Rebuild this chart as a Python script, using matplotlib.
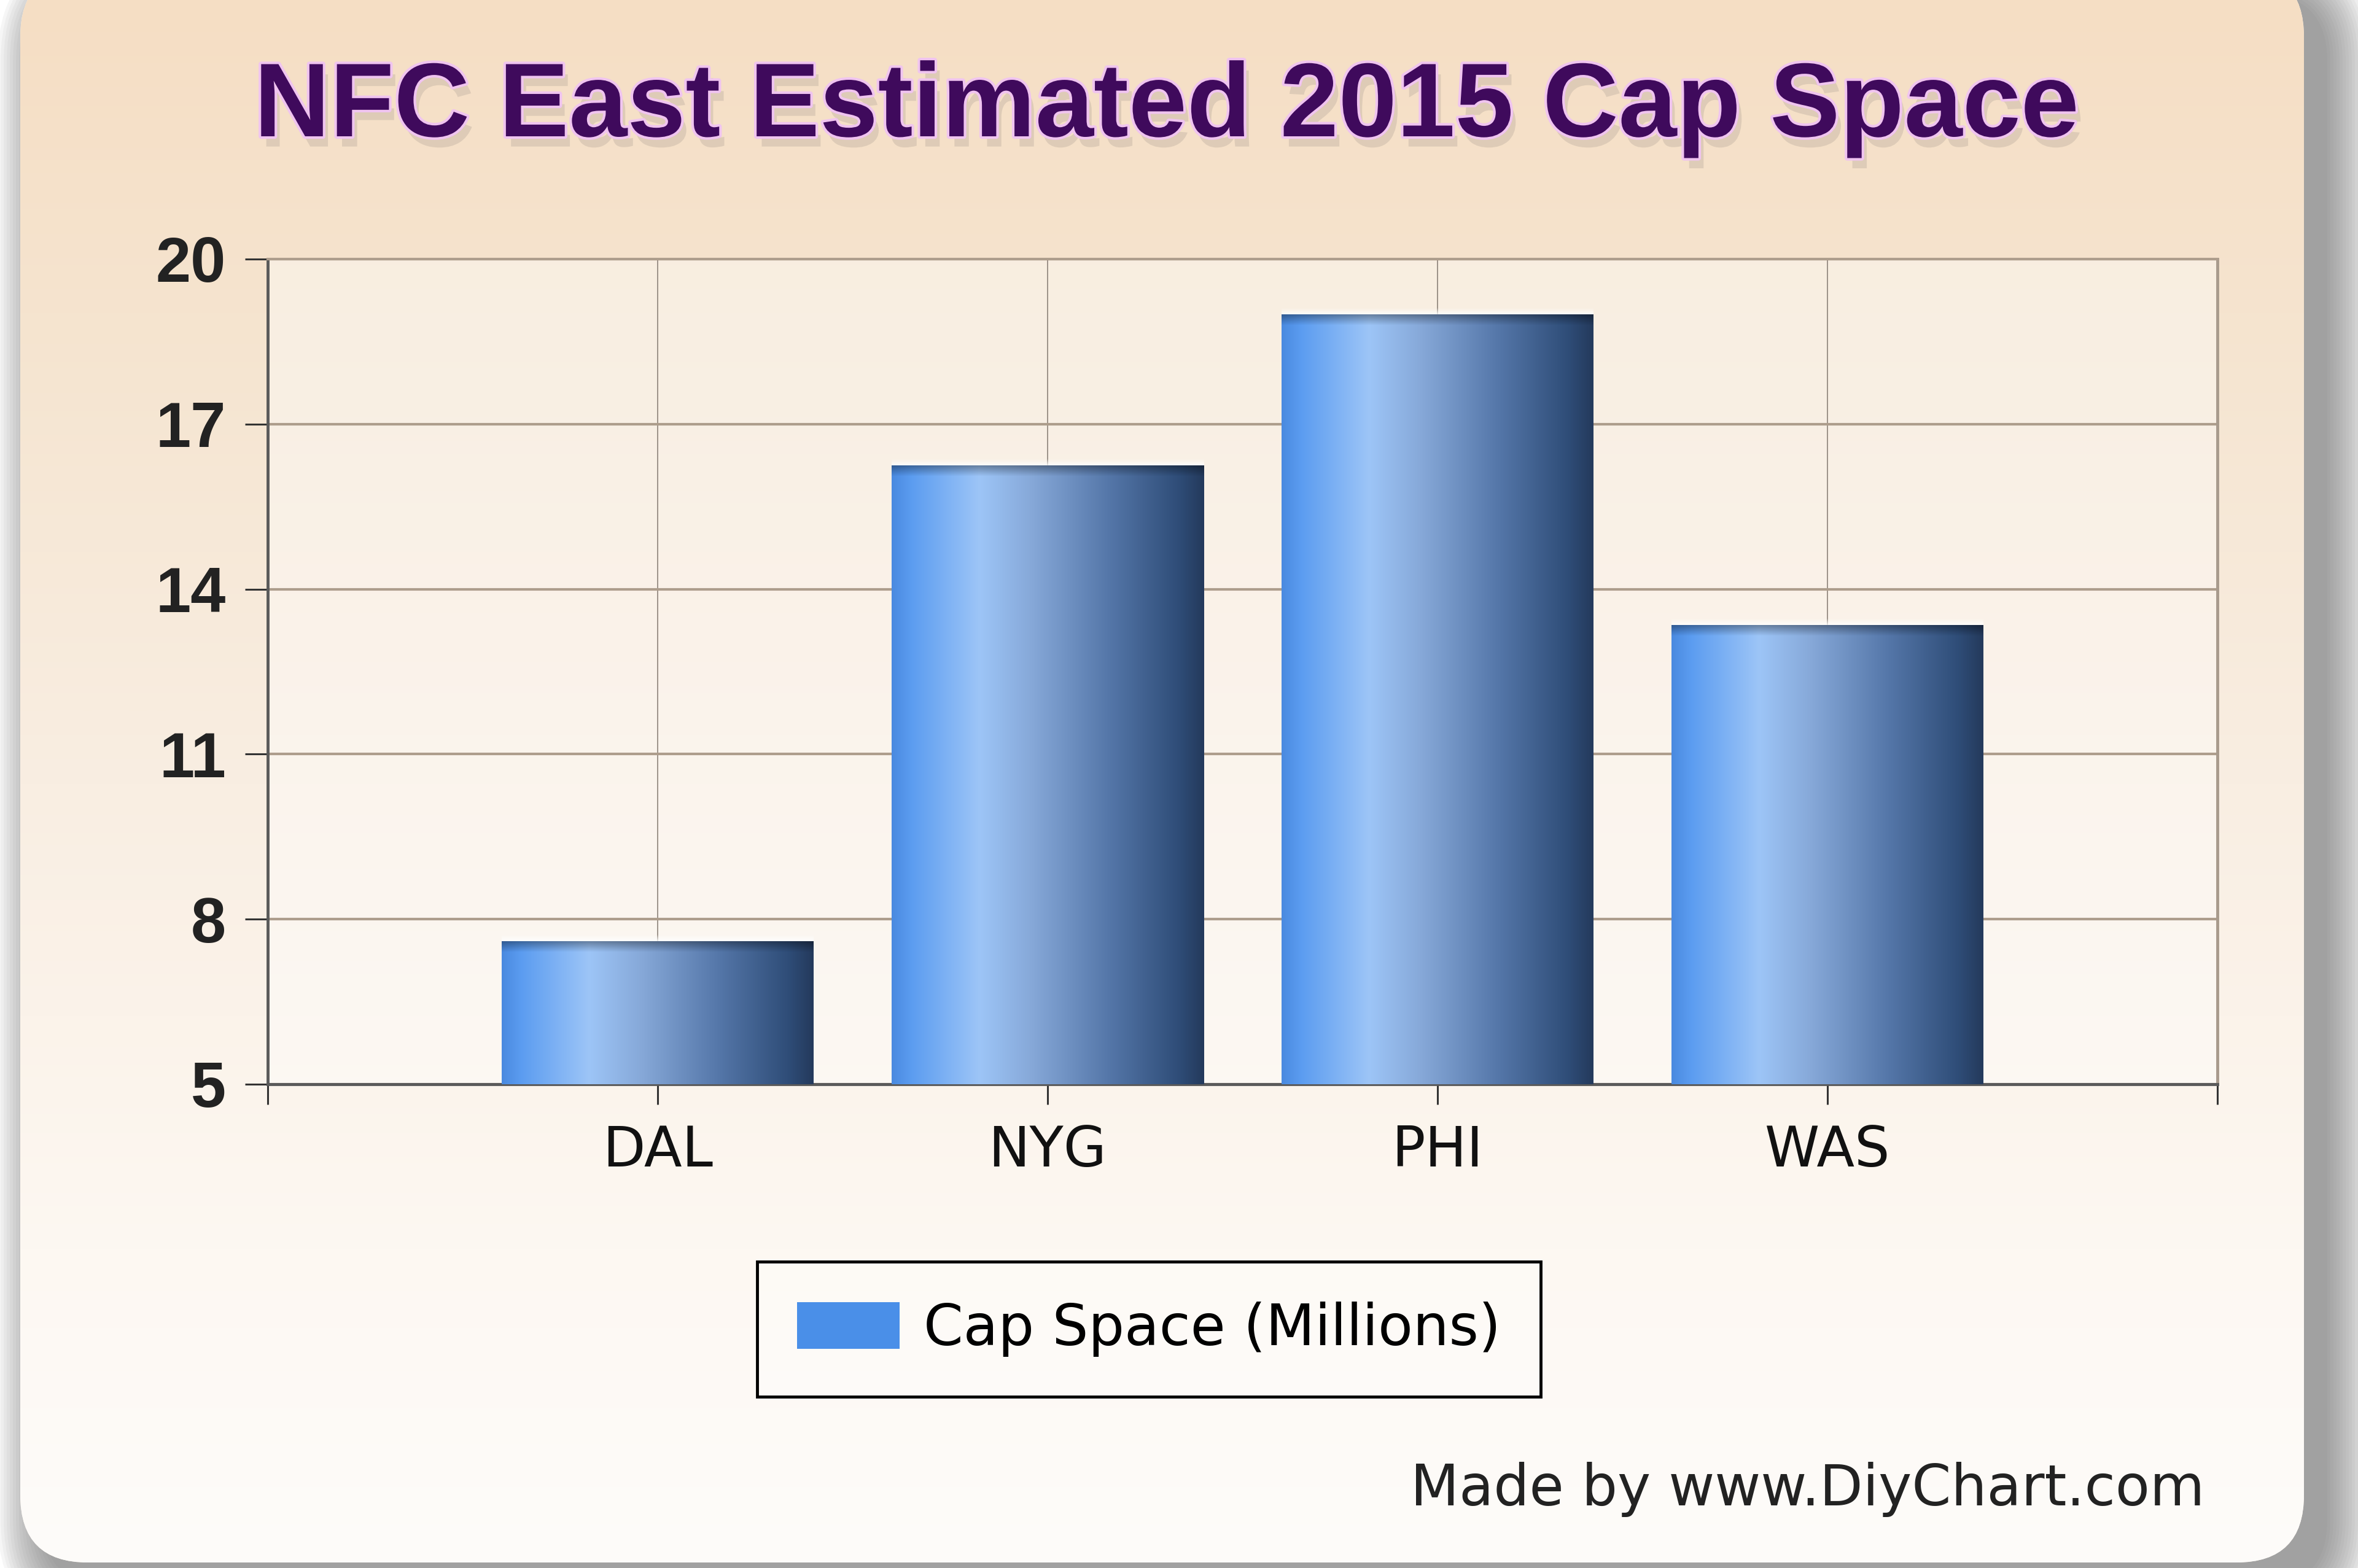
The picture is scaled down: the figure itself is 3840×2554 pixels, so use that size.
import matplotlib
matplotlib.use("Agg")
import matplotlib.pyplot as plt
import matplotlib.patches as mpatches
import matplotlib.patheffects as pe
from matplotlib.colors import LinearSegmentedColormap
import numpy as np

# data
teams = ['DAL', 'NYG', 'PHI', 'WAS']
cap_space = [7.6, 16.25, 19.0, 13.35]
y_ticks = [5, 8, 11, 14, 17, 20]
series_name = 'Cap Space (Millions)'
title = 'NFC East Estimated 2015 Cap Space'
credit = 'Made by www.DiyChart.com'

W, H = 3840, 2554
fig = plt.figure(figsize=(W / 100, H / 100), dpi=100)
fig.patch.set_facecolor('white')

# background card with gradient + soft shadow
bg = fig.add_axes([0, 0, 1, 1], zorder=-10)
bg.set_xlim(0, W)
bg.set_ylim(H, 0)
bg.axis('off')

cx0, cy0, cx1, cy1 = 33, -50, 3752, 2545
for k in range(16):
    grow = k * 5
    sh = mpatches.FancyBboxPatch((cx0 + 38 - grow, cy0 + 40 - grow),
                                 cx1 - cx0 + 2 * grow, cy1 - cy0 + 2 * grow,
                                 boxstyle="round,pad=0,rounding_size=%d" % (110 + grow),
                                 fc='#6a6a6a', ec='none', alpha=0.055)
    bg.add_patch(sh)

card = mpatches.FancyBboxPatch((cx0, cy0), cx1 - cx0, cy1 - cy0,
                               boxstyle="round,pad=0,rounding_size=110",
                               fc='#fbf3ea', ec='none')
bg.add_patch(card)
stops = [(0.0, (245, 222, 196)), (0.2, (245, 228, 207)), (0.5, (249, 238, 226)),
         (0.8, (253, 248, 242)), (1.0, (254, 252, 250))]
bg_cmap = LinearSegmentedColormap.from_list(
    'bgc', [(p, tuple(c / 255 for c in rgb)) for p, rgb in stops])
grad_v = np.linspace(0, 1, 512).reshape(-1, 1)
im = bg.imshow(grad_v, cmap=bg_cmap, extent=(0, W, H, 0), aspect='auto',
               interpolation='bicubic', zorder=1)
im.set_clip_path(card)
bg.set_xlim(0, W)
bg.set_ylim(H, 0)

# plot area
ax = fig.add_axes([436 / W, 1 - 1766 / H, (3611 - 436) / W, (1766 - 422) / H])
ax.patch.set_facecolor((1, 1, 1, 0.4))

x = np.arange(1, len(teams) + 1)
bars = ax.bar(x, cap_space, width=0.8, color='#4a8fe8', zorder=2, label=series_name)

bar_cmap = LinearSegmentedColormap.from_list('bar', [
    (0.0, '#4a8ae0'), (0.06, '#5b9cf0'), (0.28, '#9dc5f7'), (0.45, '#86a8d8'),
    (0.7, '#5476a8'), (0.92, '#2f4d78'), (1.0, '#243a5c')])
grad_h = np.linspace(0, 1, 256).reshape(1, -1)
top_shade = np.zeros((32, 1, 4))
top_shade[:, 0, 3] = np.linspace(0.35, 0.0, 32)
glow = np.ones((16, 1, 4))
glow[:, 0, 3] = np.linspace(0.0, 0.8, 16)
for patch in bars:
    x0 = patch.get_x()
    w = patch.get_width()
    top = patch.get_y() + patch.get_height()
    g = ax.imshow(grad_h, cmap=bar_cmap, extent=(x0, x0 + w, 5, top), aspect='auto',
                  interpolation='bicubic', zorder=3)
    g.set_clip_path(patch)
    ax.imshow(top_shade, extent=(x0, x0 + w, top - 0.2, top), aspect='auto', zorder=4)
    ax.imshow(glow, extent=(x0, x0 + w, top, top + 0.12), aspect='auto', zorder=4)

ax.set_xlim(0, 5)
ax.set_ylim(5, 20)
ax.set_axisbelow(True)
ax.yaxis.grid(True, color='#ad9d8c', lw=3)
ax.xaxis.grid(True, color='#8c8279', lw=1.2)

ax.set_yticks(y_ticks)
ax.set_yticklabels([str(v) for v in y_ticks], fontfamily='Liberation Sans',
                   fontweight='bold', fontsize=74, color='#222222')
ax.set_xticks(range(0, len(teams) + 2))
ax.set_xticklabels([''] + teams + [''], fontfamily='DejaVu Sans', fontsize=65,
                   color='#111111')
ax.tick_params(axis='y', direction='out', length=27, width=2.2, color='#333333', pad=22)
ax.tick_params(axis='x', direction='out', length=24, width=2.2, color='#333333', pad=23)

for side in ['left', 'bottom']:
    ax.spines[side].set_color('#5a5a5a')
    ax.spines[side].set_linewidth(3.5)
ax.spines['top'].set_color('#ad9d8c')
ax.spines['top'].set_linewidth(3)
ax.spines['right'].set_color('#a89a8c')
ax.spines['right'].set_linewidth(3.5)

# title
fig.text(1900 / W, 1 - 222 / H, title, ha='center', va='baseline',
         fontfamily='Liberation Sans', fontweight='bold', fontsize=123, color='#3f0a5c',
         path_effects=[pe.SimplePatchShadow(offset=(6, -12), shadow_rgbFace='#9a9088', alpha=0.25),
                       pe.Stroke(linewidth=6, foreground='#f0c4f0'),
                       pe.Normal()])

# legend
leg = fig.legend(handles=[mpatches.Patch(facecolor='#4a8fe8', edgecolor='none')],
                 labels=[series_name], loc='center',
                 bbox_to_anchor=(1871 / W, 1 - 2165 / H),
                 prop={'family': 'DejaVu Sans', 'size': 66.7},
                 fancybox=False, framealpha=1, handlelength=1.8, handleheight=0.9,
                 handletextpad=0.42, borderpad=0.7)
frame = leg.get_frame()
frame.set_alpha(None)
frame.set_facecolor((1, 1, 1, 0.3))
frame.set_edgecolor('black')
frame.set_linewidth(3.5)

fig.text(3590 / W, 1 - 2452 / H, credit, ha='right', va='baseline',
         fontfamily='DejaVu Sans', fontsize=66, color='#222222')

fig.savefig('out.png', dpi=100, facecolor=fig.get_facecolor())
